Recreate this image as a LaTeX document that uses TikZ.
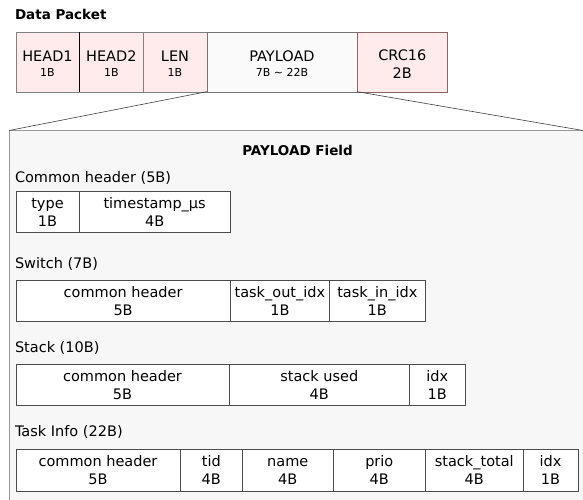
\documentclass[tikz,border=0pt]{standalone}
\usepackage{fontspec}
\setmainfont{DejaVu Sans}
% two-line field labels with uniform line heights
\newcommand\fieldtext[2]{\rule{0pt}{13pt}#1\\#2\rule[-1.7pt]{0pt}{1.7pt}}
\newcommand\pkttext[2]{\rule{0pt}{14pt}#1\\{\fontsize{11}{15}\selectfont #2}\rule[-0.4pt]{0pt}{0.4pt}}
\begin{document}
\begin{tikzpicture}[x=1pt,y=-1pt,
  every node/.style={inner sep=0pt, outer sep=0pt},
  pktcell/.style={draw=black!50, fill=red!8!white, anchor=north west, align=center,
    minimum height=60pt, font=\fontsize{14.5}{15}\selectfont},
  plcell/.style={draw=black!55, fill=black!2, anchor=north west, align=center,
    minimum height=60pt, font=\fontsize{14.5}{15}\selectfont},
  fcell/.style={draw=black!70, fill=white, anchor=north west, align=center,
    minimum height=41.5pt, font=\fontsize{14.5}{18}\selectfont},
  heading/.style={anchor=base west, font=\fontsize{14.5}{16}\selectfont},
  title/.style={font=\bfseries\fontsize{13.5}{15}\selectfont},
  zoomline/.style={draw=black!75, line width=0.6pt}
]
\useasboundingbox (0,0) rectangle (583,499);
\clip (0,0) rectangle (583,499);

% ---- packet layout ----
\node[title, anchor=base west] (pkttitle) at (15,19.5) {Data Packet};
\node[pktcell, minimum width=63.6pt] (head1) at (15.7,31.7) {\pkttext{HEAD1}{1B}};
\node[pktcell, minimum width=64pt] (head2) at (79.3,31.7) {\pkttext{HEAD2}{1B}};
\node[pktcell, minimum width=63.4pt] (len) at (143.3,31.7) {\pkttext{LEN}{1B}};
\node[plcell, minimum width=150.6pt] (payload) at (206.7,31.7)
  {\pkttext{PAYLOAD}{7B \textasciitilde{} 22B}};
\node[pktcell, draw=red!25!black!60, minimum width=90pt,
  font=\fontsize{14.5}{18}\selectfont] (crc) at (357.3,31.7)
  {\rule{0pt}{15pt}CRC16\\2B\rule[-0.4pt]{0pt}{0.4pt}};
\draw[black, line width=0.7pt] (head1.north east) -- (head1.south east);

% ---- payload detail panel ----
\node[draw=black!40, fill=black!3, line width=0.8pt, anchor=north west,
  minimum width=600pt, minimum height=400pt] (panel) at (9,130.5) {};
\coordinate (panelR) at (583,130.5);
\draw[zoomline] (len.south east) -- (panel.north west);
\draw[zoomline] (payload.south east) -- (panelR);

\node[title, anchor=base] (pltitle) at (297.5,155) {PAYLOAD Field};

% common header
\node[heading] (hcommon) at (15,182) {Common header (5B)};
\node[fcell, minimum width=63.6pt] (ctype) at (15.7,190.7) {\fieldtext{type}{1B}};
\node[fcell, minimum width=150.7pt] (cts) at (79.3,190.7) {\fieldtext{timestamp\_µs}{4B}};

% switch
\node[heading] (hswitch) at (15,268) {Switch (7B)};
\node[fcell, minimum width=214.8pt] (sch) at (15.7,279.8) {\fieldtext{common header}{5B}};
\node[fcell, minimum width=98.8pt] (sout) at (230.5,279.8) {\fieldtext{task\_out\_idx}{1B}};
\node[fcell, minimum width=96pt] (sin) at (329.3,279.8) {\fieldtext{task\_in\_idx}{1B}};

% stack
\node[heading] (hstack) at (15,352) {Stack (10B)};
\node[fcell, minimum width=213.6pt] (kch) at (15.7,364) {\fieldtext{common header}{5B}};
\node[fcell, minimum width=180pt] (kused) at (229.3,364) {\fieldtext{stack used}{4B}};
\node[fcell, minimum width=56pt] (kidx) at (409.3,364) {\fieldtext{idx}{1B}};

% task info
\node[heading] (htask) at (15,436) {Task Info (22B)};
\node[fcell, minimum width=164.6pt] (tch) at (15.7,449.5) {\fieldtext{common header}{5B}};
\node[fcell, minimum width=62pt] (ttid) at (180.3,449.5) {\fieldtext{tid}{4B}};
\node[fcell, minimum width=91pt] (tname) at (242.3,449.5) {\fieldtext{name}{4B}};
\node[fcell, minimum width=92pt] (tprio) at (333.3,449.5) {\fieldtext{prio}{4B}};
\node[fcell, minimum width=98pt] (ttotal) at (425.3,449.5) {\fieldtext{stack\_total}{4B}};
\node[fcell, minimum width=54.4pt] (tidx) at (523.3,449.5) {\fieldtext{idx}{1B}};
\end{tikzpicture}
\end{document}
